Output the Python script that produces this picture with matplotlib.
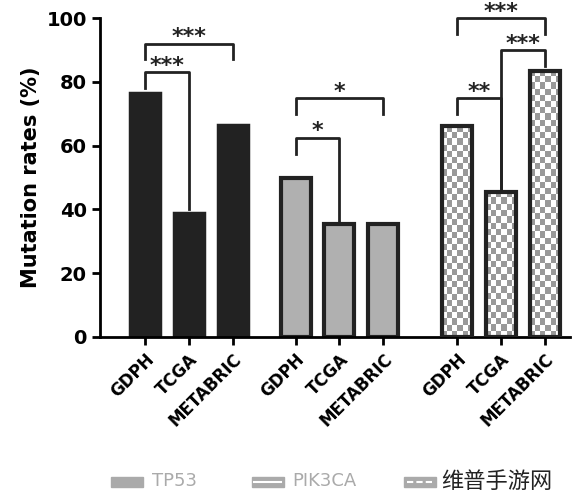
import matplotlib
matplotlib.use("Agg")
import matplotlib.pyplot as plt
import numpy as np

datasets = ["GDPH", "TCGA", "METABRIC"]
genes = ["TP53", "PIK3CA", "CDH1"]
tp53 = [76.5, 39, 66.5]
pik3ca = [50, 35.5, 35.5]
cdh1 = [66, 45.5, 83.5]
# (gene index, i, j, bracket y, sig label)
sigs = [(0, 0, 1, 83, "***"), (0, 0, 2, 92, "***"),
        (1, 0, 1, 62.5, "*"), (1, 0, 2, 75, "*"),
        (2, 0, 1, 75, "**"), (2, 1, 2, 90, "***"), (2, 0, 2, 100, "***")]

fig = plt.figure(figsize=(5.85, 5.0), dpi=100)
ax = fig.add_axes([0.171, 0.326, 0.803, 0.638])
offsets = [0, 3.4, 7.05]
w = 0.68
allvals = [tp53, pik3ca, cdh1]
xs_all = []
for g, vals in enumerate(allvals):
    xs = [offsets[g] + k * 0.99 for k in range(3)]
    xs_all.append(xs)
    for x, v in zip(xs, vals):
        if g == 0:
            ax.bar(x, v, w, color="#222222", edgecolor="#222222", lw=2.5, zorder=2)
        elif g == 1:
            ax.bar(x, v, w, color="#b0b0b0", edgecolor="#222222", lw=3, zorder=2)
        else:
            b = ax.bar(x, v, w, color="white", edgecolor="#222222", lw=3, zorder=3)[0]
            ny = int(v / 1.9); nx = 6
            chk = (np.add.outer(np.arange(ny), np.arange(nx)) % 2).astype(float)
            im = ax.imshow(chk, cmap="gray", vmin=-1.5, vmax=1.0, extent=[x - w/2, x + w/2, 0, v],
                           aspect="auto", interpolation="nearest", zorder=2, origin="lower")
            im.set_clip_path(b)
            b.set_facecolor("none")

for g, i, j, y, lab in sigs:
    xi, xj = xs_all[g][i], xs_all[g][j]
    vals = allvals[g]
    yi = y - 5
    yj = y - 5
    if j == 1:
        yj = vals[j] + 1
    if g == 2 and i == 1:
        yi = vals[i] + 1
    ax.plot([xi, xi, xj, xj], [yi, y, y, yj], color="#222222", lw=2, clip_on=False, zorder=4)
    ax.text((xi + xj) / 2, y - 1.2, lab, ha="center", va="bottom", fontsize=16,
            fontweight="bold", color="#222222")

ax.set_xlim(-1.02, 9.6)
ax.set_ylim(0, 100)
ax.set_yticks([0, 20, 40, 60, 80, 100])
ax.set_xticks([x for xs in xs_all for x in xs])
ax.set_xticklabels(datasets * 3, rotation=45, ha="right", rotation_mode="anchor",
                   fontsize=12, fontweight="bold")
for t in ax.get_yticklabels():
    t.set_fontsize(14); t.set_fontweight("bold")
ax.set_ylabel("Mutation rates (%)", fontsize=15, fontweight="bold")
for s in ["top", "right"]:
    ax.spines[s].set_visible(False)
for s in ["left", "bottom"]:
    ax.spines[s].set_linewidth(2)
ax.tick_params(width=2, length=6)

# legend
lx = [0.19, 0.43, 0.69]
for k, name in enumerate(genes):
    fig.patches.append(plt.Rectangle((lx[k], 0.027), 0.055, 0.02, transform=fig.transFigure,
                                     color="#aaaaaa", figure=fig))
    if k > 0:
        fig.lines.append(plt.Line2D([lx[k] + 0.005, lx[k] + 0.05], [0.037, 0.037],
                                    transform=fig.transFigure, color="white", lw=1.5,
                                    ls="-" if k == 1 else (0, (3, 1.5)), figure=fig))
    if k < 2:
        fig.text(lx[k] + 0.07, 0.037, name, fontsize=13, color="#aaaaaa", va="center")
fig.text(0.755, 0.037, "维普手游网", fontsize=16, color="#222222", va="center",
         family=["Noto Sans CJK SC", "DejaVu Sans"])
fig.savefig("out.png", dpi=100)
